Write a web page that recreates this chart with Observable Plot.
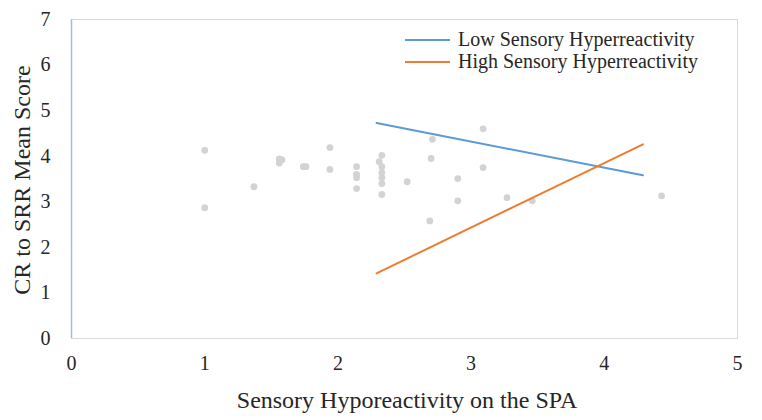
<!DOCTYPE html>
<html><head>
<meta charset="utf-8">
<script src="https://cdn.jsdelivr.net/npm/d3@7"></script>
<script src="https://cdn.jsdelivr.net/npm/@observablehq/plot@0.6"></script>
<style>
body{margin:0;background:#fff}
#c{position:relative;width:762px;height:420px;font-family:"Liberation Serif",serif;color:#262626}
#c svg{position:absolute;left:0;top:0}
#c svg text{font-family:"Liberation Serif",serif !important;font-size:20px;fill:#262626}
.lbl{position:absolute;white-space:nowrap;line-height:1;font-family:"Liberation Serif",serif}
.leg{position:absolute;left:405px;display:flex;align-items:center;font-size:20px;white-space:nowrap;font-family:"Liberation Serif",serif}
.leg span.sw{display:inline-block;width:45px;height:2px;margin-right:8px}
</style>
</head><body><div id="c"></div>
<script>
// Scatter points (Sensory Hyporeactivity on the SPA, CR to SRR Mean Score)
const pointX = [1.00, 1.00, 1.37, 1.56, 1.58, 1.56, 1.74, 1.76, 1.94, 1.94, 2.14, 2.14, 2.14, 2.14,
                2.31, 2.33, 2.33, 2.33, 2.33, 2.33, 2.33, 2.52, 2.71, 2.70, 2.69, 2.90, 2.90,
                3.09, 3.09, 3.27, 3.46, 4.43];
const pointY = [4.13, 2.87, 3.33, 3.94, 3.92, 3.85, 3.77, 3.77, 4.19, 3.71, 3.77, 3.60, 3.53, 3.29,
                3.88, 4.02, 3.77, 3.64, 3.53, 3.40, 3.16, 3.44, 4.37, 3.95, 2.58, 3.51, 3.02,
                4.60, 3.75, 3.09, 3.02, 3.13];
// Simple slopes
const lineX = [2.29, 4.29];
const lowY = [4.73, 3.58];
const highY = [1.43, 4.26];
const seriesNames = ["Low Sensory Hyperreactivity", "High Sensory Hyperreactivity"];
const seriesColors = ["#5B9BD5", "#ED7D31"];
const xTicks = [0, 1, 2, 3, 4, 5];
const yTicks = [0, 1, 2, 3, 4, 5, 6, 7];
const xTitle = "Sensory Hyporeactivity on the SPA";
const yTitle = "CR to SRR Mean Score";

const points = pointX.map((x, i) => ({x, y: pointY[i]}));
const lines = [
  ...lineX.map((x, i) => ({x, y: lowY[i], series: seriesNames[0]})),
  ...lineX.map((x, i) => ({x, y: highY[i], series: seriesNames[1]}))
];

const chart = Plot.plot({
  width: 762, height: 420,
  marginLeft: 71, marginRight: 25, marginTop: 19, marginBottom: 82,
  style: {fontFamily: "Liberation Serif", fontSize: "20px", color: "#262626", background: "#fff"},
  x: {domain: [0, 5], ticks: xTicks, tickSize: 0, tickPadding: 17, label: null, tickFormat: d => String(d)},
  y: {domain: [0, 7], ticks: yTicks, tickSize: 0, tickPadding: 21, label: null, tickFormat: d => String(d)},
  color: {domain: seriesNames, range: seriesColors},
  marks: [
    Plot.frame({stroke: "#d9d9d9"}),
    Plot.ruleX([0], {stroke: "#a9bdd3", strokeWidth: 1.5}),
    Plot.dot(points, {x: "x", y: "y", r: 3.4, fill: "#d3d3d3", stroke: "none"}),
    Plot.line(lines, {x: "x", y: "y", z: "series", stroke: "series", strokeWidth: 2})
  ]
});
const c = document.getElementById("c");
c.appendChild(chart);

// Axis titles
const xt = document.createElement("div");
xt.className = "lbl"; xt.textContent = xTitle;
xt.style.cssText = "font-size:24px;left:407px;top:388px;transform:translateX(-50%)";
c.appendChild(xt);
const yt = document.createElement("div");
yt.className = "lbl"; yt.textContent = yTitle;
yt.style.cssText = "font-size:24px;left:22px;top:180px;transform:translate(-50%,-50%) rotate(-90deg)";
c.appendChild(yt);

// Legend
seriesNames.forEach((name, i) => {
  const d = document.createElement("div");
  d.className = "leg";
  d.style.top = (i === 0 ? 28 : 50) + "px";
  const sw = document.createElement("span");
  sw.className = "sw"; sw.style.background = seriesColors[i];
  d.appendChild(sw);
  d.appendChild(document.createTextNode(name));
  c.appendChild(d);
});
</script>
</body></html>
